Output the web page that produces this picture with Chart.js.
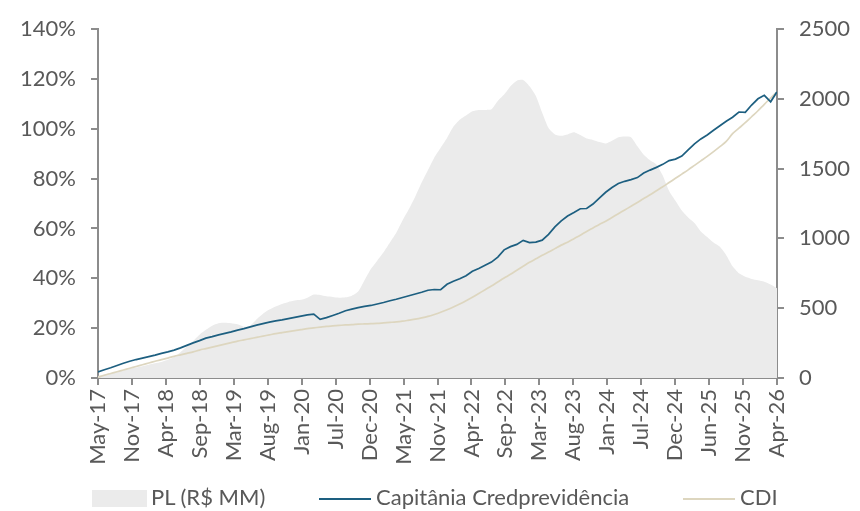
<!DOCTYPE html>
<html>
<head>
<meta charset="utf-8">
<script src="https://cdn.jsdelivr.net/npm/chart.js@4.4.1/dist/chart.umd.min.js"></script>
<style>
  body { margin: 0; background: #fff; }
  #wrap { position: relative; width: 860px; height: 511px; }
  #legend {
    position: absolute; left: 0; top: 483px; width: 860px; height: 28px;
    font-family: Lato, sans-serif; font-size: 22px; color: #595959;
  }
  #legend span { position: absolute; top: 0; line-height: 28px; white-space: nowrap; }
  .swatch { position: absolute; }
</style>
</head>
<body>
<div id="wrap">
  <canvas id="chart"></canvas>
  <div id="legend">
    <div class="swatch" style="left:92px;top:7px;width:55px;height:17px;background:#ebebeb;"></div>
    <span style="left:151px;">PL (R$ MM)</span>
    <div class="swatch" style="left:319px;top:15px;width:52px;height:2px;background:#1d5f80;"></div>
    <span style="left:376px;">Capitânia Credprevidência</span>
    <div class="swatch" style="left:683px;top:15px;width:52px;height:2px;background:#ddd6bf;"></div>
    <span style="left:740px;">CDI</span>
  </div>
</div>
<script>
// months since May-17 (0 .. 107 = Apr-26)
const tickLabels = ['May-17', 'Nov-17', 'Apr-18', 'Sep-18', 'Mar-19', 'Aug-19', 'Jan-20', 'Jul-20', 'Dec-20', 'May-21',
  'Nov-21', 'Apr-22', 'Sep-22', 'Mar-23', 'Aug-23', 'Jan-24', 'Jul-24', 'Dec-24', 'Jun-25', 'Nov-25', 'Apr-26'];

// Capitânia Credprevidência, accumulated return (%)
const fundReturn = [
  2.4, 3.3, 4.1, 5.0, 5.9, 6.7, 7.4, 8.0, 8.6, 9.2,
  9.9, 10.5, 11.2, 12.1, 13.1, 14.1, 15.0, 16.0, 16.6, 17.3,
  17.9, 18.5, 19.2, 19.8, 20.5, 21.2, 21.8, 22.4, 22.9, 23.3,
  23.8, 24.3, 24.8, 25.3, 25.6, 23.5, 24.2, 25.1, 26.0, 27.0,
  27.6, 28.2, 28.7, 29.1, 29.7, 30.3, 31.0, 31.6, 32.3, 33.0,
  33.7, 34.4, 35.2, 35.5, 35.4, 37.6, 38.8, 39.8, 41.0, 42.8,
  43.9, 45.2, 46.5, 48.5, 51.4, 52.7, 53.6, 55.2, 54.3, 54.5,
  55.3, 57.6, 60.6, 63.0, 65.0, 66.4, 67.9, 68.0, 69.8, 72.2,
  74.5, 76.4, 78.0, 78.9, 79.6, 80.4, 82.2, 83.4, 84.5, 85.7,
  87.2, 87.8, 89.0, 91.5, 93.9, 95.9, 97.5, 99.4, 101.2, 103.0,
  104.6, 106.7, 106.6, 109.5, 112.0, 113.4, 110.8, 114.8
];

// CDI, accumulated (%)
const cdiReturn = [
  0.3, 1.1, 1.8, 2.5, 3.2, 3.9, 4.6, 5.3, 6.0, 6.7,
  7.4, 8.0, 8.7, 9.3, 9.9, 10.5, 11.2, 11.8, 12.4, 13.0,
  13.6, 14.2, 14.8, 15.3, 15.8, 16.3, 16.8, 17.3, 17.8, 18.2,
  18.6, 19.0, 19.4, 19.8, 20.1, 20.4, 20.7, 20.9, 21.1, 21.3,
  21.4, 21.6, 21.7, 21.8, 21.9, 22.1, 22.3, 22.5, 22.8, 23.2,
  23.6, 24.1, 24.7, 25.5, 26.4, 27.4, 28.5, 29.7, 31.0, 32.4,
  33.9, 35.4, 36.9, 38.5, 40.1, 41.6, 43.2, 44.8, 46.4, 47.8,
  49.2, 50.5, 51.9, 53.3, 54.5, 55.9, 57.3, 58.8, 60.2, 61.6,
  62.9, 64.4, 65.9, 67.4, 68.9, 70.4, 72.0, 73.5, 75.1, 76.7,
  78.4, 80.1, 81.8, 83.5, 85.3, 87.1, 88.9, 90.8, 92.8, 94.9,
  98.0, 100.2, 102.4, 104.8, 107.2, 109.8, 112.3, 114.8
];

// PL (R$ MM)
const plValues = [
  15, 25, 35, 45, 55, 65, 75, 85, 95, 105,
  115, 130, 150, 185, 225, 265, 310, 345, 375, 392,
  395, 392, 385, 368, 375, 420, 460, 490, 512, 530,
  545, 555, 560, 575, 598, 595, 585, 580, 575, 578,
  590, 620, 700, 780, 840, 900, 970, 1040, 1130, 1210,
  1300, 1400, 1490, 1580, 1650, 1720, 1800, 1850, 1880, 1910,
  1920, 1920, 1925, 1985, 2030, 2090, 2130, 2135, 2090, 2020,
  1900, 1790, 1745, 1735, 1745, 1760, 1740, 1715, 1705, 1690,
  1680, 1700, 1725, 1730, 1725, 1660, 1600, 1560, 1530, 1450,
  1340, 1270, 1200, 1150, 1110, 1050, 1010, 970, 940, 880,
  800, 750, 725, 710, 700, 690, 670, 643
];

const toPoints = arr => arr.map((v, i) => ({ x: i, y: v }));

const axisColor = '#8c8c8c';
const textColor = '#595959';
const tickFont = { family: 'Lato', size: 22 };

new Chart(document.getElementById('chart'), {
  type: 'line',
  data: {
    datasets: [
      {
        label: 'Capitânia Credprevidência',
        data: toPoints(fundReturn),
        yAxisID: 'y',
        borderColor: '#1d5f80',
        borderWidth: 1.7,
        pointRadius: 0,
        tension: 0
      },
      {
        label: 'CDI',
        data: toPoints(cdiReturn),
        yAxisID: 'y',
        borderColor: '#ddd6bf',
        borderWidth: 1.7,
        pointRadius: 0,
        tension: 0.3
      },
      {
        label: 'PL (R$ MM)',
        data: toPoints(plValues),
        yAxisID: 'y1',
        borderWidth: 0,
        borderColor: 'rgba(0,0,0,0)',
        backgroundColor: '#ebebeb',
        fill: 'origin',
        pointRadius: 0,
        tension: 0.2
      }
    ]
  },
  options: {
    responsive: true,
    maintainAspectRatio: false,
    animation: false,
    layout: { padding: { top: 29, left: 0, right: 0, bottom: 0 } },
    plugins: {
      legend: { display: false },
      tooltip: { enabled: false }
    },
    scales: {
      x: {
        type: 'linear',
        min: 0,
        max: 107,
        afterFit: scale => { scale.height = 133; },
        afterBuildTicks: scale => {
          scale.ticks = tickLabels.map((t, k) => ({ value: k * 107 / 20 }));
        },
        grid: { drawOnChartArea: false, drawTicks: true, tickLength: 7, color: axisColor, lineWidth: 2 },
        border: { display: true, color: axisColor, width: 2 },
        ticks: {
          autoSkip: false,
          minRotation: 90,
          maxRotation: 90,
          padding: 4,
          color: textColor,
          font: tickFont,
          callback: (value, index) => tickLabels[index]
        }
      },
      y: {
        position: 'left',
        min: 0,
        max: 140,
        afterFit: scale => { scale.width = 98; },
        grid: { drawOnChartArea: false, drawTicks: true, tickLength: 7, color: axisColor, lineWidth: 2 },
        border: { display: true, color: axisColor, width: 2 },
        ticks: {
          stepSize: 20,
          padding: 15,
          color: textColor,
          font: tickFont,
          callback: value => value + '%'
        }
      },
      y1: {
        position: 'right',
        min: 0,
        max: 2500,
        afterFit: scale => { scale.width = 83; },
        grid: { drawOnChartArea: false, drawTicks: true, tickLength: 7, color: axisColor, lineWidth: 2 },
        border: { display: true, color: axisColor, width: 2 },
        ticks: {
          stepSize: 500,
          padding: 15,
          color: textColor,
          font: tickFont,
          callback: value => String(value)
        }
      }
    }
  }
});
</script>
</body>
</html>
